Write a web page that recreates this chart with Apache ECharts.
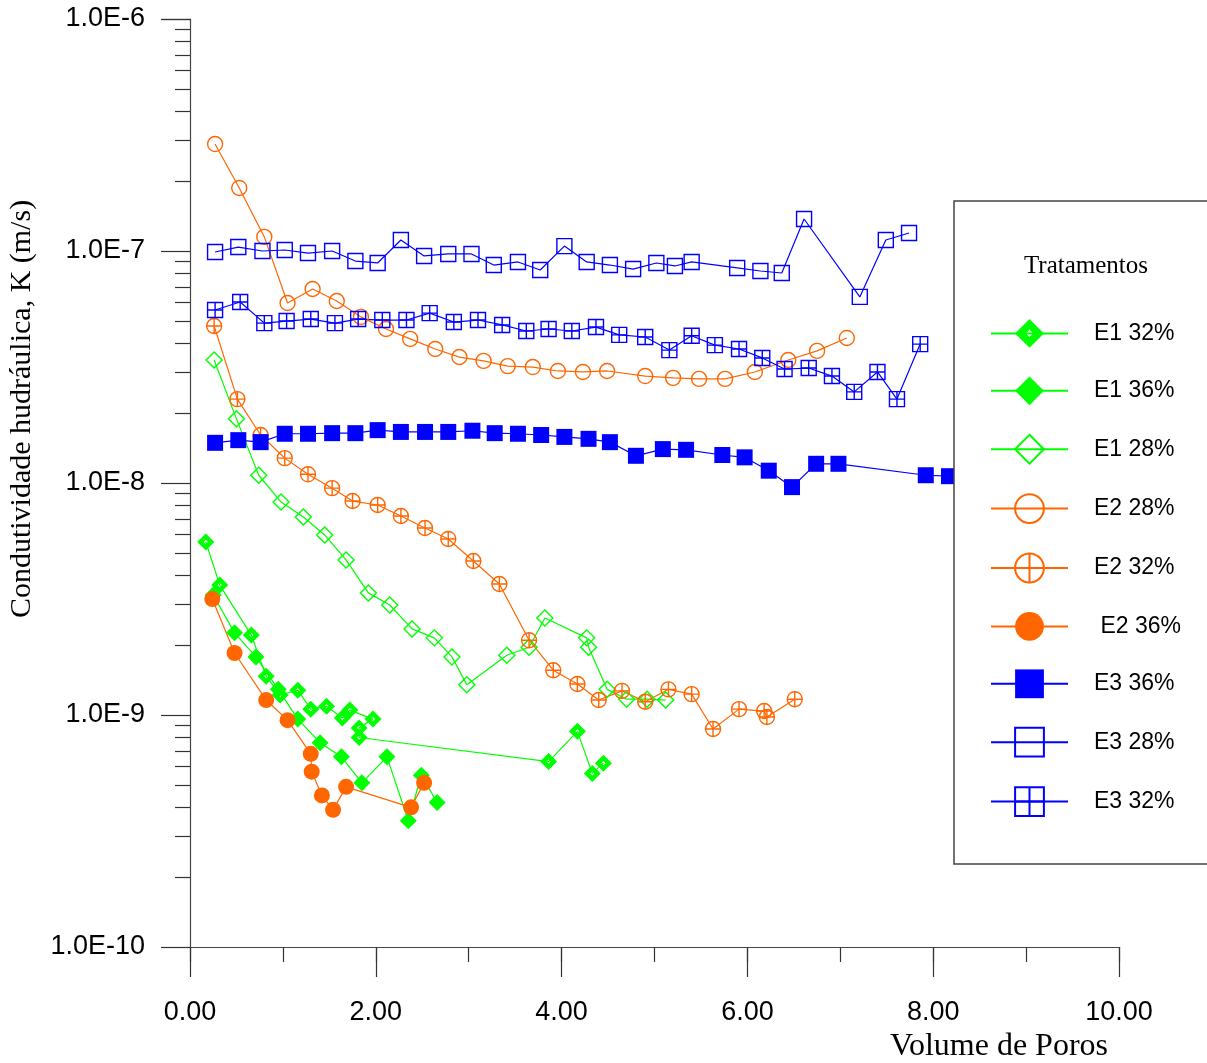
<!DOCTYPE html>
<html>
<head>
<meta charset="utf-8">
<script src="https://cdn.jsdelivr.net/npm/echarts@6/dist/echarts.min.js"></script>
<style>
  html, body { margin: 0; padding: 0; background: #fff; }
  #chart { width: 1207px; height: 1063px; }
</style>
</head>
<body>
<div id="chart"></div>
<script>
// volume de poros (x) e condutividade K em m/s (y) por tratamento
var e1_32_vp = [0.17, 0.32, 0.66, 0.82, 0.97, 1.16, 1.30, 1.47, 1.64, 1.72, 1.97, 1.82, 1.82, 3.86, 4.17, 4.33, 4.45];
var e1_32_k = [5.57e-9, 3.63e-9, 2.21e-9, 1.47e-9, 1.22e-9, 1.28e-9, 1.06e-9, 1.09e-9, 0.97e-9, 1.05e-9, 0.96e-9, 0.88e-9, 0.80e-9, 0.63e-9, 0.85e-9, 0.56e-9, 0.62e-9];

var e1_36_vp = [0.25, 0.48, 0.71, 0.95, 1.16, 1.40, 1.63, 1.85, 2.12, 2.35, 2.49, 2.66];
var e1_36_k = [3.29e-9, 2.26e-9, 1.78e-9, 1.29e-9, 0.96e-9, 0.76e-9, 0.66e-9, 0.51e-9, 0.66e-9, 0.35e-9, 0.55e-9, 0.42e-9];

var e1_28_vp = [0.26, 0.50, 0.74, 0.98, 1.22, 1.45, 1.68, 1.92, 2.15, 2.39, 2.63, 2.82, 2.98, 3.41, 3.65, 3.82, 4.27, 4.29, 4.49, 4.70, 4.92, 5.12];
var e1_28_k = [3.39e-8, 1.89e-8, 1.08e-8, 8.28e-9, 7.13e-9, 5.97e-9, 4.66e-9, 3.36e-9, 2.98e-9, 2.35e-9, 2.15e-9, 1.78e-9, 1.35e-9, 1.81e-9, 1.96e-9, 2.62e-9, 2.15e-9, 1.96e-9, 1.29e-9, 1.17e-9, 1.17e-9, 1.16e-9];

var e2_28_vp = [0.27, 0.53, 0.80, 1.05, 1.32, 1.58, 1.84, 2.11, 2.37, 2.64, 2.90, 3.16, 3.42, 3.69, 3.96, 4.23, 4.49, 4.90, 5.20, 5.48, 5.76, 6.08, 6.44, 6.75, 7.07];
var e2_28_k = [2.89e-7, 1.87e-7, 1.15e-7, 5.97e-8, 6.86e-8, 6.09e-8, 5.2e-8, 4.61e-8, 4.18e-8, 3.78e-8, 3.49e-8, 3.36e-8, 3.19e-8, 3.16e-8, 3.04e-8, 3.01e-8, 3.04e-8, 2.89e-8, 2.84e-8, 2.81e-8, 2.81e-8, 3.01e-8, 3.39e-8, 3.71e-8, 4.22e-8];

var e2_32_vp = [0.26, 0.51, 0.76, 1.02, 1.27, 1.53, 1.75, 2.02, 2.27, 2.53, 2.78, 3.05, 3.33, 3.65, 3.91, 4.17, 4.40, 4.65, 4.90, 5.15, 5.40, 5.63, 5.91, 6.18, 6.21, 6.51];
var e2_32_k = [4.75e-8, 2.30e-8, 1.61e-8, 1.28e-8, 1.09e-8, 9.5e-9, 8.36e-9, 8.04e-9, 7.21e-9, 6.40e-9, 5.74e-9, 4.61e-9, 3.67e-9, 2.10e-9, 1.56e-9, 1.36e-9, 1.16e-9, 1.27e-9, 1.14e-9, 1.29e-9, 1.23e-9, 8.7e-10, 1.06e-9, 1.04e-9, 9.8e-10, 1.17e-9];

var e2_36_vp = [0.24, 0.48, 0.82, 1.05, 1.30, 1.31, 1.42, 1.54, 1.68, 2.38, 2.52];
var e2_36_k = [3.16e-9, 1.85e-9, 1.16e-9, 0.95e-9, 0.68e-9, 0.57e-9, 0.45e-9, 0.39e-9, 0.49e-9, 0.40e-9, 0.51e-9];

var e3_36_vp = [0.27, 0.52, 0.76, 1.02, 1.27, 1.53, 1.78, 2.02, 2.27, 2.53, 2.78, 3.04, 3.28, 3.53, 3.78, 4.03, 4.29, 4.52, 4.80, 5.09, 5.34, 5.73, 5.97, 6.23, 6.48, 6.74, 6.98, 7.92, 8.17];
var e3_36_k = [1.49e-8, 1.53e-8, 1.50e-8, 1.63e-8, 1.63e-8, 1.64e-8, 1.64e-8, 1.69e-8, 1.66e-8, 1.66e-8, 1.66e-8, 1.68e-8, 1.64e-8, 1.63e-8, 1.61e-8, 1.58e-8, 1.55e-8, 1.50e-8, 1.31e-8, 1.40e-8, 1.39e-8, 1.32e-8, 1.29e-8, 1.13e-8, 0.96e-8, 1.21e-8, 1.21e-8, 1.08e-8, 1.07e-8];

var e3_28_vp = [0.27, 0.52, 0.78, 1.02, 1.27, 1.53, 1.78, 2.02, 2.27, 2.52, 2.78, 3.03, 3.27, 3.53, 3.77, 4.03, 4.27, 4.52, 4.77, 5.02, 5.22, 5.40, 5.89, 6.14, 6.37, 6.61, 7.21, 7.49, 7.74];
var e3_28_k = [0.99e-7, 1.04e-7, 1.00e-7, 1.01e-7, 0.98e-7, 1.00e-7, 0.905e-7, 0.888e-7, 1.115e-7, 0.952e-7, 0.971e-7, 0.971e-7, 0.87e-7, 0.897e-7, 0.828e-7, 1.05e-7, 0.897e-7, 0.87e-7, 0.836e-7, 0.888e-7, 0.862e-7, 0.897e-7, 0.845e-7, 0.82e-7, 0.804e-7, 1.374e-7, 0.634e-7, 1.115e-7, 1.196e-7];

var e3_32_vp = [0.27, 0.54, 0.80, 1.04, 1.30, 1.56, 1.81, 2.07, 2.33, 2.58, 2.84, 3.10, 3.36, 3.62, 3.86, 4.11, 4.37, 4.62, 4.90, 5.16, 5.40, 5.65, 5.91, 6.16, 6.40, 6.66, 6.91, 7.15, 7.40, 7.61, 7.86];
var e3_32_k = [5.57e-8, 6.03e-8, 4.89e-8, 4.99e-8, 5.09e-8, 4.89e-8, 5.09e-8, 5.04e-8, 5.04e-8, 5.40e-8, 4.94e-8, 5.04e-8, 4.80e-8, 4.52e-8, 4.61e-8, 4.52e-8, 4.70e-8, 4.35e-8, 4.26e-8, 3.74e-8, 4.31e-8, 3.93e-8, 3.78e-8, 3.46e-8, 3.10e-8, 3.13e-8, 2.89e-8, 2.47e-8, 3.01e-8, 2.30e-8, 3.97e-8];

var x_labels = [0, 2, 4, 6, 8, 10];
var y_decades = [-10, -9, -8, -7, -6];

var GREEN = '#00ff00';
var ORANGE = '#ff6600';
var BLUE = '#0000ff';
var NONE = 'rgba(0,0,0,0)';

// simbolos especiais
var DIAMOND_DOT = 'path://M10,0 L20,10 L10,20 L0,10 Z M10,7.5 L7.5,10 L10,12.5 L12.5,10 Z';
var CIRCLE_PLUS = 'path://M0,10 A10,10 0 1,1 20,10 A10,10 0 1,1 0,10 Z M10,0 L10,20 M0,10 L20,10';
var SQUARE_PLUS = 'path://M0,0 L20,0 L20,20 L0,20 Z M10,0 L10,20 M0,10 L20,10';

function zip(xs, ys) {
    return xs.map(function (x, i) { return [x, ys[i]]; });
}

function serie(name, xs, ys, color, symbol, size, filled) {
    return {
        name: name,
        type: 'line',
        data: zip(xs, ys),
        symbol: symbol,
        symbolSize: size,
        showSymbol: true,
        lineStyle: { color: color, width: 1.2 },
        itemStyle: {
            color: filled ? color : NONE,
            borderColor: color,
            borderWidth: filled ? 0 : 1.4
        },
        emphasis: { disabled: true },
        animation: false
    };
}

// ticks menores (2..9 de cada decada)
var minor = [];
for (var d = 0; d < y_decades.length - 1; d++) {
    for (var m = 2; m <= 9; m++) {
        minor.push(m * Math.pow(10, y_decades[d]));
    }
}

var chart = echarts.init(document.getElementById('chart'));
var labelFont = { fontSize: 27, color: '#000', fontFamily: 'Liberation Sans, Arial, sans-serif' };

var option = {
    backgroundColor: '#fff',
    animation: false,
    grid: { left: 190, right: 88, top: 19, bottom: 116, containLabel: false },
    xAxis: [{
        type: 'value', min: 0, max: 10, interval: 2, position: 'bottom',
        axisLine: { show: true, onZero: false, lineStyle: { color: '#444', width: 1.2 } },
        axisTick: { show: true, length: 30, lineStyle: { color: '#333', width: 1.2 } },
        axisLabel: Object.assign({
            margin: 52,
            customValues: x_labels,
            formatter: function (v) { return v.toFixed(2); }
        }, labelFont),
        splitLine: { show: false }
    }, {
        type: 'value', min: 0, max: 10, interval: 1, position: 'bottom',
        axisLine: { show: false, onZero: false },
        axisTick: { show: true, length: 15, lineStyle: { color: '#333', width: 1.2 } },
        axisLabel: { show: false },
        splitLine: { show: false }
    }],
    yAxis: [{
        type: 'log', logBase: 10, min: 1e-10, max: 1e-6, position: 'left',
        axisLine: { show: true, onZero: false, lineStyle: { color: '#444', width: 1.2 } },
        axisTick: { show: true, length: 29, lineStyle: { color: '#333', width: 1.2 } },
        axisLabel: Object.assign({
            margin: 45,
            showMinLabel: true,
            showMaxLabel: true,
            customValues: y_decades.map(function (e) { return Math.pow(10, e); }),
            formatter: function (v) { return '1.0E' + Math.round(Math.log10(v)); }
        }, labelFont),
        splitLine: { show: false }
    }, {
        type: 'log', logBase: 10, min: 1e-10, max: 1e-6, position: 'left',
        axisLine: { show: false, onZero: false },
        axisTick: { show: true, length: 15, customValues: minor, lineStyle: { color: '#333', width: 1.2 } },
        axisLabel: { show: false },
        splitLine: { show: false }
    }],
    legend: {
        orient: 'vertical',
        left: 985,
        top: 314,
        itemWidth: 77,
        itemHeight: 36,
        itemGap: 22.6 + 6,
        z: 20,
        selectedMode: false,
        textStyle: { fontSize: 23, color: '#000', fontFamily: 'Liberation Sans, Arial, sans-serif', padding: [0, 0, 0, 21] },
        data: ['E1 32%', 'E1 36%', 'E1 28%', 'E2 28%', 'E2 32%', ' E2 36%', 'E3 36%', 'E3 28%', 'E3 32%']
    },
    graphic: [
        {
            type: 'rect', z: 10,
            shape: { x: 954, y: 201, width: 300, height: 663 },
            style: { fill: '#fff', stroke: '#444', lineWidth: 1.5 }
        },
        {
            type: 'text', z: 20, x: 1086, y: 266,
            style: { text: 'Tratamentos', font: '25px "Liberation Serif", "Times New Roman", serif', fill: '#000', align: 'center', verticalAlign: 'middle' }
        },
        {
            type: 'text', x: 22, y: 409, rotation: Math.PI / 2,
            style: { text: 'Condutividade hudráulica, K (m/s)', font: '30px "Liberation Serif", "Times New Roman", serif', fill: '#000', align: 'center', verticalAlign: 'middle' }
        },
        {
            type: 'text', x: 1108, y: 1047,
            style: { text: 'Volume de Poros', font: '32px "Liberation Serif", "Times New Roman", serif', fill: '#000', align: 'right', verticalAlign: 'middle' }
        }
    ],
    series: [
        serie('E1 32%', e1_32_vp, e1_32_k, GREEN, DIAMOND_DOT, 17, true),
        serie('E1 36%', e1_36_vp, e1_36_k, GREEN, 'diamond', 17, true),
        serie('E1 28%', e1_28_vp, e1_28_k, GREEN, 'diamond', 16, false),
        serie('E2 28%', e2_28_vp, e2_28_k, ORANGE, 'circle', 15, false),
        serie('E2 32%', e2_32_vp, e2_32_k, ORANGE, CIRCLE_PLUS, 15, false),
        serie(' E2 36%', e2_36_vp, e2_36_k, ORANGE, 'circle', 16, true),
        serie('E3 36%', e3_36_vp, e3_36_k, BLUE, 'rect', 16, true),
        serie('E3 28%', e3_28_vp, e3_28_k, BLUE, 'rect', 15, false),
        serie('E3 32%', e3_32_vp, e3_32_k, BLUE, SQUARE_PLUS, 15, false)
    ]
};

chart.setOption(option);
</script>
</body>
</html>
